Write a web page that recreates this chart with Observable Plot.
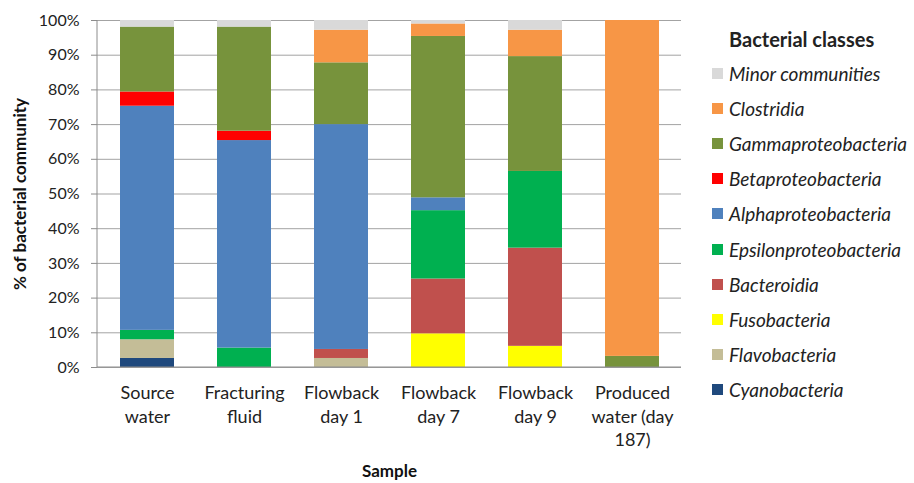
<!DOCTYPE html>
<html>
<head>
<meta charset="utf-8">
<script src="https://cdn.jsdelivr.net/npm/d3@7"></script>
<script src="https://cdn.jsdelivr.net/npm/@observablehq/plot@0.6"></script>
<style>
  html, body { margin: 0; padding: 0; background: #fff; }
  #wrap { position: relative; width: 914px; height: 483px; font-family: Lato, "Noto Sans", sans-serif; color: #222; }
  #wrap svg { position: absolute; left: 0; top: 0; }
  #legend { position: absolute; left: 712px; top: 0; }
  #legend .title { position: absolute; left: 17px; top: 27px; font-weight: bold; font-size: 20px; white-space: nowrap; line-height: 24px; }
  #legend .item { position: absolute; left: 0; height: 24px; display: flex; align-items: center; white-space: nowrap; font-style: italic; font-size: 19px; }
  #legend .sw { width: 11px; height: 11px; margin-right: 6px; box-sizing: border-box; }
</style>
</head>
<body>
<div id="wrap"><div id="legend"></div></div>
<script>
// Samples (x categories)
const samples = ["Source water", "Fracturing fluid", "Flowback day 1", "Flowback day 7", "Flowback day 9", "Produced water (day 187)"];
const sampleLabels = ["Source\nwater", "Fracturing\nfluid", "Flowback\nday 1", "Flowback\nday 7", "Flowback\nday 9", "Produced\nwater (day\n187)"];

// Bacterial classes, bottom of stack first
const classes = ["Cyanobacteria", "Flavobacteria", "Fusobacteria", "Bacteroidia", "Epsilonproteobacteria", "Alphaproteobacteria", "Betaproteobacteria", "Gammaproteobacteria", "Clostridia", "Minor communities"];
const classColors = ["#1f497d", "#c4bd97", "#ffff00", "#c0504d", "#00b050", "#4f81bd", "#ff0000", "#77933c", "#f79646", "#d9d9d9"];

// % of bacterial community, one value per sample
const cyanobacteria         = [2.6, 0, 0, 0, 0, 0];
const flavobacteria         = [5.4, 0, 2.6, 0, 0, 0];
const fusobacteria          = [0, 0, 0, 9.7, 6.1, 0];
const bacteroidia           = [0, 0, 2.6, 15.8, 28.3, 0];
const epsilonproteobacteria = [2.7, 5.6, 0, 19.7, 22.1, 0];
const alphaproteobacteria   = [64.6, 59.8, 64.8, 3.7, 0, 0];
const betaproteobacteria    = [4.1, 2.7, 0, 0, 0, 0];
const gammaproteobacteria   = [18.7, 30.0, 17.8, 46.5, 33.1, 3.2];
const clostridia            = [0, 0, 9.4, 3.6, 7.6, 96.8];
const minorCommunities      = [1.9, 1.9, 2.8, 1.0, 2.8, 0];

const yTicks = [0, 10, 20, 30, 40, 50, 60, 70, 80, 90, 100];

const seriesValues = [cyanobacteria, flavobacteria, fusobacteria, bacteroidia, epsilonproteobacteria,
  alphaproteobacteria, betaproteobacteria, gammaproteobacteria, clostridia, minorCommunities];

const data = [];
classes.forEach((c, i) => samples.forEach((s, j) => data.push({sample: s, cls: c, value: seriesValues[i][j]})));

const chart = Plot.plot({
  width: 914,
  height: 483,
  marginLeft: 97,
  marginRight: 233,
  marginTop: 20,
  marginBottom: 116,
  style: {fontFamily: "Lato, 'Noto Sans', sans-serif", color: "#222", background: "transparent", overflow: "visible"},
  x: {domain: samples, paddingInner: 0.445, paddingOuter: 0.2225, label: null},
  y: {domain: [0, 100], label: null},
  color: {domain: classes, range: classColors},
  marks: [
    Plot.gridY(yTicks, {stroke: "#a3a3a3", strokeOpacity: 1}),
    Plot.barY(data, {x: "sample", y: "value", fill: "cls", order: classes}),
    Plot.axisY(yTicks, {tickFormat: d => d + "%", tickSize: 6, tickPadding: 12, fontSize: 16, stroke: "#8c8c8c", fill: "#222", label: null}),
    Plot.axisX({tickSize: 0, tickPadding: 15, fontSize: 18, lineHeight: 1.3, tickFormat: d => sampleLabels[samples.indexOf(d)], fill: "#222", label: null}),
    Plot.text(["% of bacterial community"], {text: d => d, frameAnchor: "left", dx: -77, rotate: -90, textAnchor: "middle", lineAnchor: "middle", fontWeight: "bold", fontSize: 17, fill: "#111"}),
    Plot.text(["Sample"], {text: d => d, frameAnchor: "bottom", dy: 104, textAnchor: "middle", lineAnchor: "middle", fontWeight: "bold", fontSize: 17, fill: "#111"})
  ]
});

const wrap = document.getElementById("wrap");
wrap.insertBefore(chart, wrap.firstChild);

// left axis line and baseline, drawn from the chart's own scales
const xs = chart.scale("x"), ys = chart.scale("y");
d3.select(chart).append("line")
  .attr("x1", xs.range[0]).attr("x2", xs.range[0])
  .attr("y1", ys.range[0]).attr("y2", ys.range[1])
  .attr("stroke", "#8c8c8c").attr("stroke-width", 1);
d3.select(chart).append("line")
  .attr("x1", xs.range[0]).attr("x2", xs.range[1])
  .attr("y1", ys.range[0]).attr("y2", ys.range[0])
  .attr("stroke", "#8c8c8c").attr("stroke-width", 1);

// legend (top entry first)
const legend = document.getElementById("legend");
const t = document.createElement("div");
t.className = "title";
t.textContent = "Bacterial classes";
legend.appendChild(t);
const legendOrder = classes.slice().reverse();
legendOrder.forEach((c, k) => {
  const it = document.createElement("div");
  it.className = "item";
  it.style.top = (61 + k * 35.2) + "px";
  const sw = document.createElement("span");
  sw.className = "sw";
  sw.style.background = classColors[classes.indexOf(c)];
  const tx = document.createElement("span");
  tx.textContent = c;
  it.appendChild(sw);
  it.appendChild(tx);
  legend.appendChild(it);
});
</script>
</body>
</html>
